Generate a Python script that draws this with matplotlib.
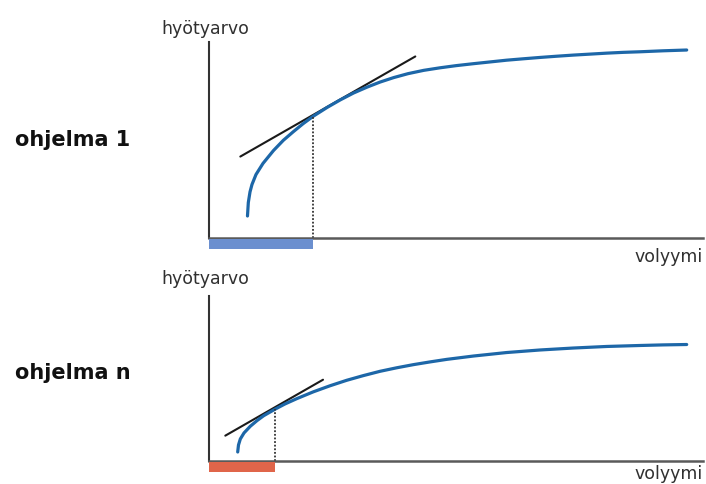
import numpy as np
import matplotlib.pyplot as plt

# --- Data (volume vs. utility, arbitrary units) ---
prog1_x = [7.79, 7.96, 8.30, 8.70, 9.51, 10.93, 13.06, 15.04, 17.06, 19.09, 21.15,
           23.89, 26.58, 29.25, 31.98, 34.62, 37.39, 40.28, 43.46, 46.76, 50.00,
           53.50, 56.88, 60.26, 63.56, 67.00, 70.24, 73.74, 77.13, 80.51, 83.81,
           87.25, 91.90, 96.70]
prog1_y = [11.0, 17.9, 23.3, 27.1, 32.2, 37.9, 44.5, 49.7, 54.1, 58.3, 62.1,
           66.5, 70.4, 73.9, 76.9, 79.5, 81.8, 83.8, 85.5, 86.8, 87.9,
           88.9, 89.8, 90.7, 91.4, 92.1, 92.7, 93.3, 93.8, 94.3, 94.7,
           95.0, 95.5, 95.9]
prog1_tangent_x = [6.34, 41.76]
prog1_tangent_y = [41.4, 92.6]
prog1_volume = 21.15
prog1_value = 62.1

progn_x = [5.81, 5.97, 6.34, 7.09, 8.36, 9.72, 11.07, 13.42, 15.38, 17.75, 21.11,
           24.49, 27.87, 31.24, 34.62, 38.00, 41.36, 44.74, 48.12, 53.50, 60.26,
           67.00, 73.74, 80.51, 87.25, 91.90, 96.70]
progn_y = [4.35, 7.93, 11.0, 14.1, 17.5, 20.4, 22.9, 26.3, 28.9, 31.6, 35.1,
           38.2, 41.0, 43.4, 45.6, 47.4, 49.0, 50.4, 51.7, 53.4, 55.2,
           56.5, 57.5, 58.3, 58.8, 59.1, 59.3]
progn_tangent_x = [3.30, 23.08]
progn_tangent_y = [12.7, 41.3]
progn_volume = 13.42
progn_value = 26.3

panel_names = ["ohjelma 1", "ohjelma n"]
y_label = "hyötyarvo"
x_label = "volyymi"

curve_color = "#1d67a8"
bar_colors = ["#6b8fcf", "#e0654a"]
label_color = "#303030"

fig = plt.figure(figsize=(7.06, 4.85), dpi=100)

# panel rectangles in figure fractions (left, bottom, width, height)
top_ax = fig.add_axes([209 / 706, 246.5 / 485, 494 / 706, 195.5 / 485])
bot_ax = fig.add_axes([209 / 706, 23.5 / 485, 494 / 706, 164.5 / 485])

panels = [
    (top_ax, prog1_x, prog1_y, prog1_tangent_x, prog1_tangent_y, prog1_volume, prog1_value, 100),
    (bot_ax, progn_x, progn_y, progn_tangent_x, progn_tangent_y, progn_volume, progn_value, 84.1),
]

for i, (ax, cx, cy, tx, ty, vol, val, ytop) in enumerate(panels):
    ax.set_xlim(0, 100)
    ax.set_ylim(0, ytop)
    ax.plot(tx, ty, color="#1a1a1a", lw=1.5, solid_capstyle="round")
    ax.plot(cx, cy, color=curve_color, lw=2.3, solid_capstyle="round",
            solid_joinstyle="round")
    ax.plot([vol, vol], [0, val], color="#333333", lw=1.3, ls=(0, (1.0, 1.0)))
    ax.bar([0], [5.0], width=vol, bottom=-5.8, align="edge",
           color=bar_colors[i], clip_on=False, zorder=3)
    for side in ["top", "right"]:
        ax.spines[side].set_visible(False)
    ax.spines["left"].set_color("#333333")
    ax.spines["bottom"].set_color("#5a5a5a")
    ax.spines["left"].set_linewidth(1.5)
    ax.spines["bottom"].set_linewidth(1.8)
    ax.set_xticks([])
    ax.set_yticks([])
    ax.patch.set_alpha(0)

# labels
fig.text(205 / 706, 456 / 485, y_label, ha="center", va="center",
         fontsize=12.5, color=label_color, family="DejaVu Sans")
fig.text(205 / 706, 206 / 485, y_label, ha="center", va="center",
         fontsize=12.5, color=label_color, family="DejaVu Sans")
fig.text(15 / 706, 345 / 485, panel_names[0], ha="left", va="center",
         fontsize=15, fontweight="bold", color="#111111", family="DejaVu Sans")
fig.text(15 / 706, 112 / 485, panel_names[1], ha="left", va="center",
         fontsize=15, fontweight="bold", color="#111111", family="DejaVu Sans")
fig.text(703 / 706, 228 / 485, x_label, ha="right", va="center",
         fontsize=12.5, color=label_color, family="DejaVu Sans")
fig.text(703 / 706, 1.5 / 485, x_label, ha="right", va="bottom",
         fontsize=12.5, color=label_color, family="DejaVu Sans")

fig.savefig("out.png", dpi=100)
